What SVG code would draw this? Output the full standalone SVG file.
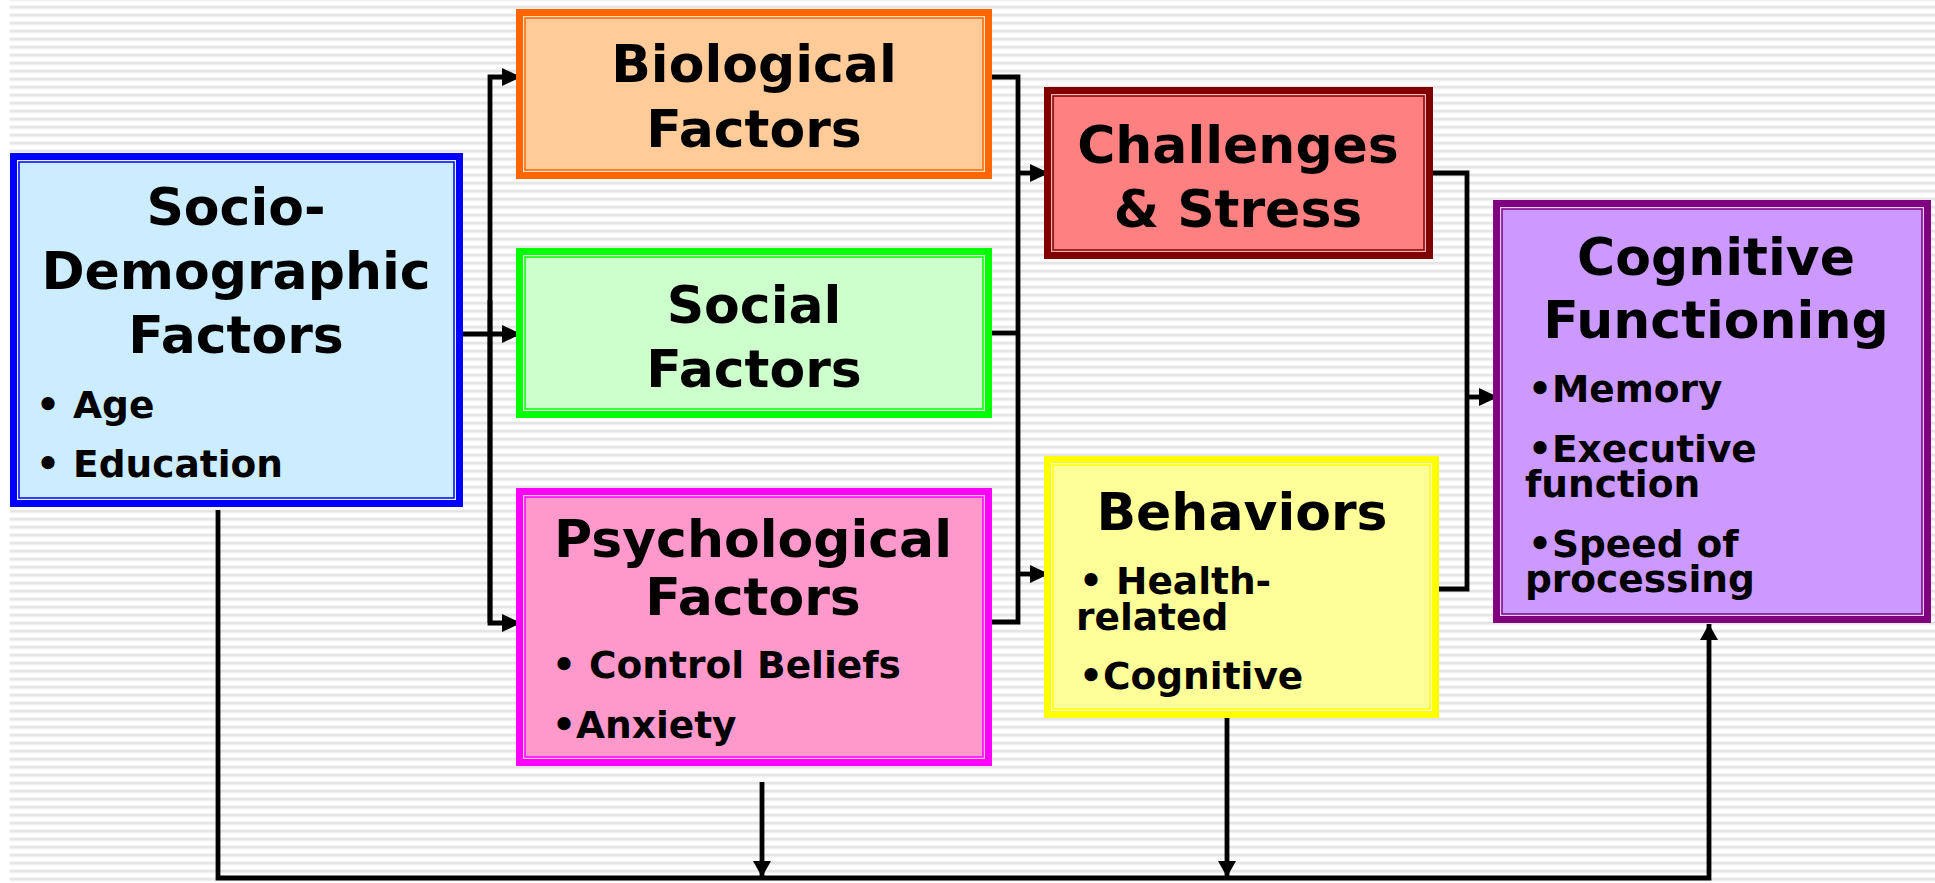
<svg xmlns="http://www.w3.org/2000/svg" width="1935" height="883" viewBox="0 0 1935 883">
<defs>
<pattern id="stripes" patternUnits="userSpaceOnUse" x="0" y="5.5" width="40" height="8">
<rect x="0" y="0" width="40" height="8" fill="#ffffff"/>
<rect x="0" y="0" width="40" height="1" fill="#ececec"/>
<rect x="0" y="1" width="40" height="1.6" fill="#dedede"/>
<rect x="0" y="2.6" width="40" height="1" fill="#efefef"/>
</pattern>
<marker id="ah" markerUnits="userSpaceOnUse" markerWidth="20" markerHeight="18" refX="19" refY="9" orient="auto">
<path d="M0,0 L19,9 L0,18 z" fill="#000"/>
</marker>
<marker id="ahs" markerUnits="userSpaceOnUse" markerWidth="17" markerHeight="18" refX="16" refY="9" orient="auto">
<path d="M0,0 L16,9 L0,18 z" fill="#000"/>
</marker>
</defs>
<style>
.t{font-family:"DejaVu Sans","Verdana","Liberation Sans",sans-serif;font-weight:bold;fill:#000}
.h{font-size:52px;text-anchor:middle}
.b{font-size:37.5px}
.c{fill:none;stroke:#000;stroke-width:4.8;stroke-linejoin:miter;stroke-linecap:butt}
</style>
<rect x="0" y="0" width="1935" height="883" fill="#ffffff"/>
<rect x="10" y="0" width="1925" height="883" fill="url(#stripes)"/>

<g id="connectors">
<path class="c" d="M490,623 L490,77 L521,77" marker-end="url(#ah)"/>
<path class="c" d="M490,300 L490,623 L521,623" marker-end="url(#ah)"/>
<path class="c" d="M463,334 L521,334" marker-end="url(#ah)"/>
<path class="c" d="M992,77 L1018,77 L1018,622 L992,622"/>
<path class="c" d="M992,333 L1018,333"/>
<path class="c" d="M1018,173 L1049,173" marker-end="url(#ah)"/>
<path class="c" d="M1018,574 L1049,574" marker-end="url(#ah)"/>
<path class="c" d="M1433,173 L1467,173 L1467,589 L1439,589"/>
<path class="c" d="M1467,397 L1498,397" marker-end="url(#ah)"/>
<path class="c" d="M218,510 L218,878 L1709,878 L1709,624" marker-end="url(#ahs)"/>
<path class="c" d="M762,782 L762,877" marker-end="url(#ahs)"/>
<path class="c" d="M1227,718 L1227,877" marker-end="url(#ahs)"/>
</g>

<g id="socio">
<rect x="10" y="153" width="453" height="354" fill="#0000ff"/>
<rect x="17" y="160" width="439" height="340" fill="#e4f4ff"/>
<rect x="19" y="162" width="435" height="336" fill="#ccecff" stroke="#0000ff" stroke-width="1.5"/>
<text class="t h" x="236" y="225">Socio-</text>
<text class="t h" x="236" y="289">Demographic</text>
<text class="t h" x="236" y="353">Factors</text>
<text class="t b" x="36" y="418">• Age</text>
<text class="t b" x="36" y="477">• Education</text>
</g>

<g id="biological">
<rect x="516" y="9" width="476" height="170" fill="#ff6600"/>
<rect x="523" y="16" width="462" height="156" fill="#ffe2c4"/>
<rect x="525" y="18" width="458" height="152" fill="#ffcc99" stroke="#ff6600" stroke-width="1.5"/>
<text class="t h" x="754" y="82">Biological</text>
<text class="t h" x="754" y="147">Factors</text>
</g>

<g id="social">
<rect x="516" y="248" width="476" height="170" fill="#00ff00"/>
<rect x="523" y="255" width="462" height="156" fill="#e4ffe4"/>
<rect x="525" y="257" width="458" height="152" fill="#ccffcc" stroke="#00ff00" stroke-width="1.5"/>
<text class="t h" x="754" y="323">Social</text>
<text class="t h" x="754" y="387">Factors</text>
</g>

<g id="psychological">
<rect x="516" y="488" width="476" height="278" fill="#ff00ff"/>
<rect x="523" y="495" width="462" height="264" fill="#ffc4e4"/>
<rect x="525" y="497" width="458" height="260" fill="#ff99cc" stroke="#ff00ff" stroke-width="1.5"/>
<text class="t h" x="753" y="557">Psychological</text>
<text class="t h" x="753" y="615">Factors</text>
<text class="t b" x="552" y="678">• Control Beliefs</text>
<text class="t b" x="552" y="738">•Anxiety</text>
</g>

<g id="challenges">
<rect x="1044" y="87" width="389" height="172" fill="#800000"/>
<rect x="1051" y="94" width="375" height="158" fill="#ffb0b0"/>
<rect x="1053" y="96" width="371" height="154" fill="#ff8080" stroke="#800000" stroke-width="1.5"/>
<text class="t h" x="1238" y="163">Challenges</text>
<text class="t h" x="1238" y="227">&amp; Stress</text>
</g>

<g id="behaviors">
<rect x="1044" y="456" width="395" height="262" fill="#ffff00"/>
<rect x="1051" y="463" width="381" height="248" fill="#ffffcc"/>
<rect x="1053" y="465" width="377" height="244" fill="#ffff99" stroke="#ffff00" stroke-width="1.5"/>
<text class="t h" x="1242" y="530">Behaviors</text>
<text class="t b" x="1079" y="594">• Health-</text>
<text class="t b" x="1076" y="630">related</text>
<text class="t b" x="1079" y="689">•Cognitive</text>
</g>

<g id="cognitive">
<rect x="1493" y="200" width="438" height="423" fill="#800080"/>
<rect x="1500" y="207" width="424" height="409" fill="#e4ccff"/>
<rect x="1502" y="209" width="420" height="405" fill="#cc99ff" stroke="#800080" stroke-width="1.5"/>
<text class="t h" x="1716" y="275">Cognitive</text>
<text class="t h" x="1716" y="338">Functioning</text>
<text class="t b" x="1528" y="402">•Memory</text>
<text class="t b" x="1528" y="462">•Executive</text>
<text class="t b" x="1525" y="497">function</text>
<text class="t b" x="1528" y="557">•Speed of</text>
<text class="t b" x="1525" y="592">processing</text>
</g>
</svg>
